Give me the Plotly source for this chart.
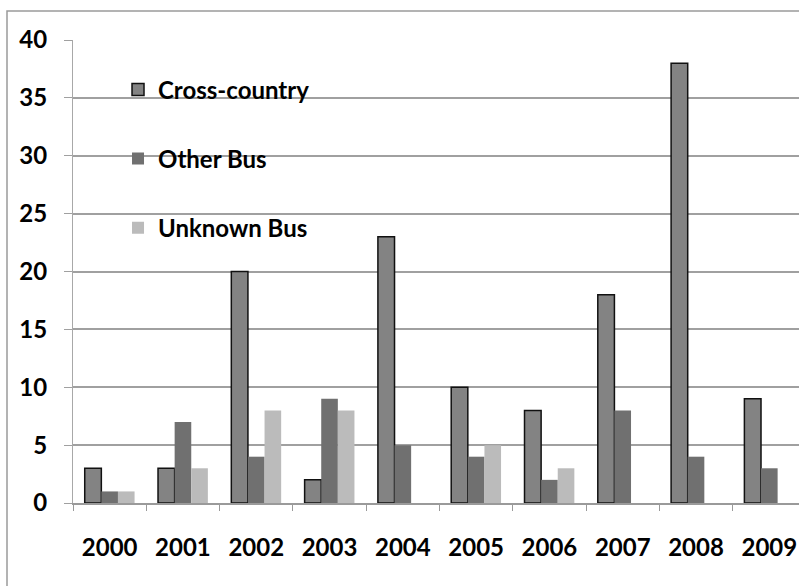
import plotly.graph_objects as go

years = ["2000", "2001", "2002", "2003", "2004", "2005", "2006", "2007", "2008", "2009"]
cross_country = [3, 3, 20, 2, 23, 10, 8, 18, 38, 9]
other_bus = [1, 7, 4, 9, 5, 4, 2, 8, 4, 3]
unknown_bus = [1, 3, 8, 8, 0, 5, 3, 0, 0, 0]
y_ticks = [0, 5, 10, 15, 20, 25, 30, 35, 40]

FONT = "Lato"

fig = go.Figure()
fig.add_trace(go.Bar(name="Cross-country", x=years, y=cross_country,
                     marker=dict(color="#838383", line=dict(color="#111111", width=1.5)),
                     legendgroup="a"))
fig.add_trace(go.Bar(name="Other Bus", x=years, y=other_bus,
                     marker=dict(color="#707070", line=dict(width=0)),
                     legendgroup="b"))
fig.add_trace(go.Bar(name="Unknown Bus", x=years, y=unknown_bus,
                     marker=dict(color="#bbbbbb", line=dict(width=0)),
                     legendgroup="c"))

fig.update_layout(
    width=799, height=586,
    margin=dict(l=73, r=0, t=40, b=83),
    paper_bgcolor="white", plot_bgcolor="white",
    barmode="group", bargap=0.32, bargroupgap=0,
    font=dict(family=FONT, size=24, color="black"),
    legend=dict(x=0.062, y=0.941, xanchor="left", yanchor="top",
                bgcolor="rgba(0,0,0,0)", tracegroupgap=35,
                font=dict(family=FONT, size=24, color="black", weight="bold")),
    xaxis=dict(type="category", range=[-0.5, 9.405], showgrid=False,
               showline=True, linecolor="#9a9a9a", linewidth=1.5,
               ticks="outside", tickson="boundaries", ticklen=6, tickcolor="#9a9a9a",
               tickfont=dict(family=FONT, size=24, color="black", weight="bold"),
               ticklabelstandoff=22),
    yaxis=dict(range=[0, 40], tickvals=y_ticks, showgrid=True, gridcolor="#a0a0a0",
               gridwidth=1.5, zeroline=False, showline=True, linecolor="#a8a8a8",
               linewidth=1, ticks="outside", ticklen=8, tickcolor="#a0a0a0",
               tickfont=dict(family=FONT, size=24, color="black", weight="bold"),
               ticklabelstandoff=12),
    shapes=[dict(type="rect", xref="paper", yref="paper",
                 x0=-66 / 726, x1=1.2, y0=-0.3, y1=1 + 29 / 463,
                 line=dict(color="#9a9a9a", width=1.5), layer="below")],
)

fig.write_html(
    "out.html",
    config={"displayModeBar": False},
    post_script="document.body.style.margin='0';document.body.style.overflow='hidden';",
)
